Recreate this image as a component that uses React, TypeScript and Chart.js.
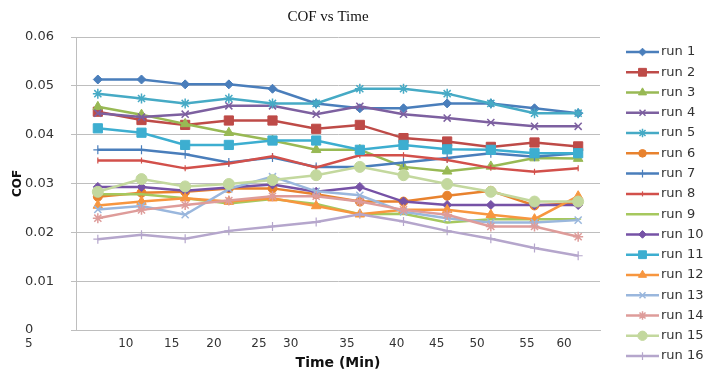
import React, { useEffect, useRef } from 'react';
import { Chart, registerables } from 'chart.js';
import { drawPoint } from 'chart.js/helpers';

Chart.register(...registerables);

const chartTitle = 'COF vs Time';
const xAxisTitle = 'Time (Min)';
const yAxisTitle = 'COF';

const timeMinutes = [7, 12, 17, 22, 27, 32, 37, 42, 47, 52, 57, 62];

// tick labels of the time axis and where they sit (in minutes)
const xTickLabels = ['10', '15', '20', '25', '30', '35', '40', '45', '50', '55', '60'];
const xTickValues = [10.2, 15.46, 20.3, 25.45, 29.09, 35.53, 41.22, 45.8, 50.42, 56.14, 60.38];
const xFirstLabel = '5';

const seriesNames = [
  'run 1', 'run 2', 'run 3', 'run 4', 'run 5', 'run 6', 'run 7', 'run 8',
  'run 9', 'run 10', 'run 11', 'run 12', 'run 13', 'run 14', 'run 15', 'run 16',
];

const run1 = [0.0513, 0.0513, 0.0503, 0.0503, 0.0494, 0.0464, 0.0454, 0.0454, 0.0464, 0.0464, 0.0454, 0.0444];
const run2 = [0.0447, 0.0430, 0.0420, 0.0429, 0.0429, 0.0412, 0.0420, 0.0393, 0.0386, 0.0375, 0.0384, 0.0376];
const run3 = [0.0457, 0.0441, 0.0422, 0.0404, 0.0388, 0.0369, 0.0369, 0.0334, 0.0325, 0.0335, 0.0352, 0.0351];
const run4 = [0.0444, 0.0436, 0.0442, 0.0459, 0.0459, 0.0442, 0.0458, 0.0442, 0.0434, 0.0425, 0.0417, 0.0417];
const run5 = [0.0484, 0.0474, 0.0464, 0.0474, 0.0464, 0.0464, 0.0494, 0.0494, 0.0484, 0.0464, 0.0444, 0.0444];
const run6 = [0.0273, 0.0281, 0.0283, 0.0290, 0.0290, 0.0278, 0.0263, 0.0263, 0.0275, 0.0285, 0.0255, 0.0260];
const run7 = [0.0369, 0.0369, 0.0360, 0.0343, 0.0353, 0.0334, 0.0334, 0.0343, 0.0352, 0.0362, 0.0355, 0.0362];
const run8 = [0.0347, 0.0347, 0.0331, 0.0341, 0.0356, 0.0333, 0.0358, 0.0358, 0.0348, 0.0332, 0.0324, 0.0331];
const run9 = [0.0278, 0.0278, 0.0270, 0.0259, 0.0268, 0.0258, 0.0237, 0.0238, 0.0220, 0.0227, 0.0227, 0.0227];
const run10 = [0.0293, 0.0293, 0.0285, 0.0292, 0.0298, 0.0283, 0.0293, 0.0263, 0.0256, 0.0256, 0.0256, 0.0256];
const run11 = [0.0413, 0.0404, 0.0379, 0.0379, 0.0388, 0.0388, 0.0369, 0.0379, 0.0370, 0.0369, 0.0362, 0.0362];
const run12 = [0.0255, 0.0263, 0.0270, 0.0263, 0.0270, 0.0254, 0.0237, 0.0246, 0.0246, 0.0236, 0.0227, 0.0274];
const run13 = [0.0247, 0.0254, 0.0236, 0.0289, 0.0314, 0.0284, 0.0276, 0.0242, 0.0229, 0.0220, 0.0220, 0.0225];
const run14 = [0.0229, 0.0246, 0.0256, 0.0265, 0.0274, 0.0274, 0.0263, 0.0246, 0.0236, 0.0212, 0.0212, 0.0191];
const run15 = [0.0283, 0.0309, 0.0294, 0.0299, 0.0307, 0.0317, 0.0334, 0.0317, 0.0299, 0.0283, 0.0263, 0.0263];
const run16 = [0.0186, 0.0195, 0.0187, 0.0203, 0.0212, 0.0221, 0.0237, 0.0222, 0.0203, 0.0187, 0.0168, 0.0152];

const seriesValues = [run1, run2, run3, run4, run5, run6, run7, run8, run9, run10, run11, run12, run13, run14, run15, run16];

const seriesColors = [
  '#4A7EBB', '#BE4B48', '#98B954', '#7D60A0', '#46AAC5', '#E8822E', '#4A7EBB', '#D2504B',
  '#A6C85E', '#7652A6', '#3DAED0', '#F7963F', '#9AB7DD', '#DE9C9A', '#C3D89E', '#B5A6CC',
];

type Marker = { style: string; radius: number; rotation: number; border: number };
const seriesMarkers: Marker[] = [
  { style: 'rectRot', radius: 4.5, rotation: 0, border: 1 },
  { style: 'rect', radius: 6.5, rotation: 0, border: 1 },
  { style: 'triangle', radius: 5.5, rotation: 0, border: 1 },
  { style: 'crossRot', radius: 5, rotation: 0, border: 1.5 },
  { style: 'star', radius: 5, rotation: 0, border: 1.5 },
  { style: 'circle', radius: 4.5, rotation: 0, border: 1 },
  { style: 'cross', radius: 4.5, rotation: 0, border: 1.2 },
  { style: 'line', radius: 3, rotation: 90, border: 1.2 },
  { style: 'line', radius: 3, rotation: 0, border: 1.2 },
  { style: 'rectRot', radius: 4.5, rotation: 0, border: 1 },
  { style: 'rect', radius: 6.5, rotation: 0, border: 1 },
  { style: 'triangle', radius: 5.5, rotation: 0, border: 1 },
  { style: 'crossRot', radius: 5, rotation: 0, border: 1.5 },
  { style: 'star', radius: 5, rotation: 0, border: 1.5 },
  { style: 'circle', radius: 5.5, rotation: 0, border: 1 },
  { style: 'cross', radius: 4.5, rotation: 0, border: 1.2 },
];

const TEXT = '#333333';
const GRID = '#BEBEBE';

const overlayPlugin = {
  id: 'overlay',
  afterDraw(chart: any) {
    const { ctx, chartArea } = chart;
    ctx.save();
    // chart title
    ctx.fillStyle = '#111';
    ctx.font = '15px "Liberation Serif", serif';
    ctx.textAlign = 'center';
    ctx.textBaseline = 'middle';
    ctx.fillText(chartTitle, (chartArea.left + chartArea.right) / 2 - 10, 17);
    // first x label under the y labels
    ctx.fillStyle = TEXT;
    ctx.font = '12px "DejaVu Sans", sans-serif';
    ctx.textAlign = 'left';
    ctx.fillText(xFirstLabel, chartArea.left - 51, chartArea.bottom + 14);
    // legend
    const x0 = chartArea.right + 26;
    const x1 = chartArea.right + 59;
    const xm = (x0 + x1) / 2;
    const top = 52;
    const step = 20.27;
    chart.data.datasets.forEach((ds: any, i: number) => {
      const y = top + i * step;
      ctx.strokeStyle = ds.borderColor;
      ctx.lineWidth = ds.borderWidth;
      ctx.beginPath();
      ctx.moveTo(x0, y);
      ctx.lineTo(x1, y);
      ctx.stroke();
      ctx.fillStyle = ds.pointBackgroundColor;
      ctx.strokeStyle = ds.pointBorderColor;
      ctx.lineWidth = ds.pointBorderWidth;
      drawPoint(ctx, {
        pointStyle: ds.pointStyle,
        rotation: ds.pointRotation,
        radius: ds.pointRadius * 0.85,
        borderWidth: ds.pointBorderWidth,
      } as any, xm, y);
      ctx.fillStyle = TEXT;
      ctx.font = '13px "DejaVu Sans", sans-serif';
      ctx.textAlign = 'left';
      ctx.textBaseline = 'middle';
      ctx.fillText(ds.label, x1 + 2, y);
    });
    ctx.restore();
  },
};

export default function App() {
  const canvasRef = useRef<HTMLCanvasElement | null>(null);

  useEffect(() => {
    const canvas = canvasRef.current;
    if (!canvas) return;
    const datasets = seriesValues.map((vals, i) => {
      const m = seriesMarkers[i];
      return {
        label: seriesNames[i],
        data: timeMinutes.map((t, j) => ({ x: t, y: vals[j] })),
        borderColor: seriesColors[i],
        backgroundColor: seriesColors[i],
        borderWidth: 2.5,
        pointStyle: m.style,
        pointRadius: m.radius,
        pointRotation: m.rotation,
        pointBackgroundColor: seriesColors[i],
        pointBorderColor: seriesColors[i],
        pointBorderWidth: m.border,
        tension: 0,
        fill: false,
        order: seriesValues.length - i,
      };
    });

    const chart = new Chart(canvas, {
      type: 'line',
      data: { datasets } as any,
      plugins: [overlayPlugin as any],
      options: {
        animation: false,
        responsive: false,
        maintainAspectRatio: false,
        layout: { padding: { top: 37, right: 104, left: 25, bottom: 0 } },
        plugins: {
          legend: { display: false },
          title: { display: false },
          tooltip: { enabled: false },
        },
        scales: {
          x: {
            type: 'linear',
            min: 4.5,
            max: 64.5,
            grid: { display: false, drawTicks: false },
            border: { display: true, color: GRID, width: 1 },
            afterBuildTicks: (scale: any) => {
              scale.ticks = xTickValues.map((v) => ({ value: v }));
            },
            afterFit: (scale: any) => {
              scale.height = 39;
            },
            ticks: {
              autoSkip: false,
              maxRotation: 0,
              padding: 7,
              color: TEXT,
              font: { family: '"DejaVu Sans", sans-serif', size: 12 },
              callback: (_v: any, idx: number) => xTickLabels[idx],
            },
            title: {
              display: true,
              text: xAxisTitle,
              color: '#111',
              font: { family: '"DejaVu Sans", sans-serif', size: 14, weight: 'bold' },
              padding: { top: 0, bottom: -3 },
            },
          },
          y: {
            type: 'linear',
            min: 0,
            max: 0.06,
            grid: { color: GRID, lineWidth: 1, tickLength: 5, drawTicks: true, tickColor: GRID },
            border: { display: true, color: GRID, width: 1 },
            afterFit: (scale: any) => {
              scale.width = 51;
            },
            ticks: {
              stepSize: 0.01,
              crossAlign: 'far',
              padding: 4,
              color: TEXT,
              font: { family: '"DejaVu Sans", sans-serif', size: 13 },
              callback: (v: any) => (Number(v) === 0 ? '0' : Number(v).toFixed(2)),
            },
            title: {
              display: true,
              text: yAxisTitle,
              color: '#111',
              font: { family: '"DejaVu Sans", sans-serif', size: 12, weight: 'bold' },
              padding: { top: -14, bottom: 0 },
            },
          },
        },
      } as any,
    });
    return () => chart.destroy();
  }, []);

  return (
    <div style={{ position: 'absolute', left: 0, top: 0, width: 704, height: 369, background: '#fff' }}>
      <canvas ref={canvasRef} width={704} height={369} style={{ width: 704, height: 369, display: 'block' }} />
    </div>
  );
}
